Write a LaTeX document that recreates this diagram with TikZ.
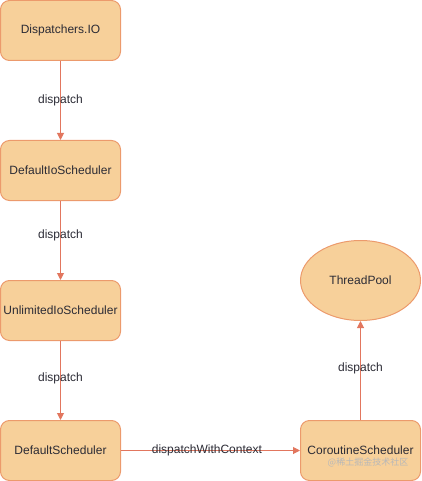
\documentclass[tikz,border=0pt]{standalone}
\usepackage{fontspec}
\setmainfont{Liberation Sans}
\newfontfamily\cjk{Noto Sans CJK SC}
\usetikzlibrary{shapes.geometric,arrows.meta}
\definecolor{boxfill}{HTML}{F7D09A}
\definecolor{boxline}{HTML}{EC9A6C}
\definecolor{arrowc}{HTML}{E2765E}
\definecolor{txt}{HTML}{2B2B35}
\tikzset{
  procbox/.style={draw=boxline, fill=boxfill, line width=1pt, rounded corners=9pt,
    minimum width=120pt, minimum height=60pt, inner sep=0pt, font=\fontsize{12pt}{14pt}\selectfont, text=txt},
  poolnode/.style={draw=boxline, fill=boxfill, line width=1pt, ellipse,
    minimum width=120pt, minimum height=80pt, inner sep=0pt, font=\fontsize{12pt}{14pt}\selectfont, text=txt},
  conn/.style={draw=arrowc, line width=1pt, -{Triangle[length=7pt,width=7pt]}},
  lbl/.style={font=\fontsize{12pt}{14pt}\selectfont, text=txt, inner sep=0pt}
}
\begin{document}
\begin{tikzpicture}[x=1pt,y=-1pt]
\useasboundingbox (0,0) rectangle (421,481);
\node[procbox] (io) at (60.5,30.5) {Dispatchers.IO};
\node[procbox] (dio) at (60.5,170.5) {DefaultIoScheduler};
\node[procbox] (uio) at (60.5,310.5) {UnlimitedIoScheduler};
\node[procbox] (ds) at (60.5,450.5) {DefaultScheduler};
\node[procbox] (cs) at (360.5,450.5) {CoroutineScheduler};
\node[poolnode] (tp) at (360.5,280.5) {ThreadPool};
\node[font=\cjk\fontsize{9pt}{10pt}\selectfont, text=black!28, inner sep=0pt] (wm) at (368,462) {@稀土掘金技术社区};
\draw[conn] (io) -- (dio) node[lbl, midway] {dispatch};
\draw[conn] (dio) -- (uio) node[lbl, pos=0.43] {dispatch};
\draw[conn] (uio) -- (ds) node[lbl, pos=0.47] {dispatch};
\draw[conn] (ds) -- (cs) node[lbl, pos=0.48] {dispatchWithContext};
\draw[conn] (cs) -- (tp) node[lbl, pos=0.52] {dispatch};
\end{tikzpicture}
\end{document}
